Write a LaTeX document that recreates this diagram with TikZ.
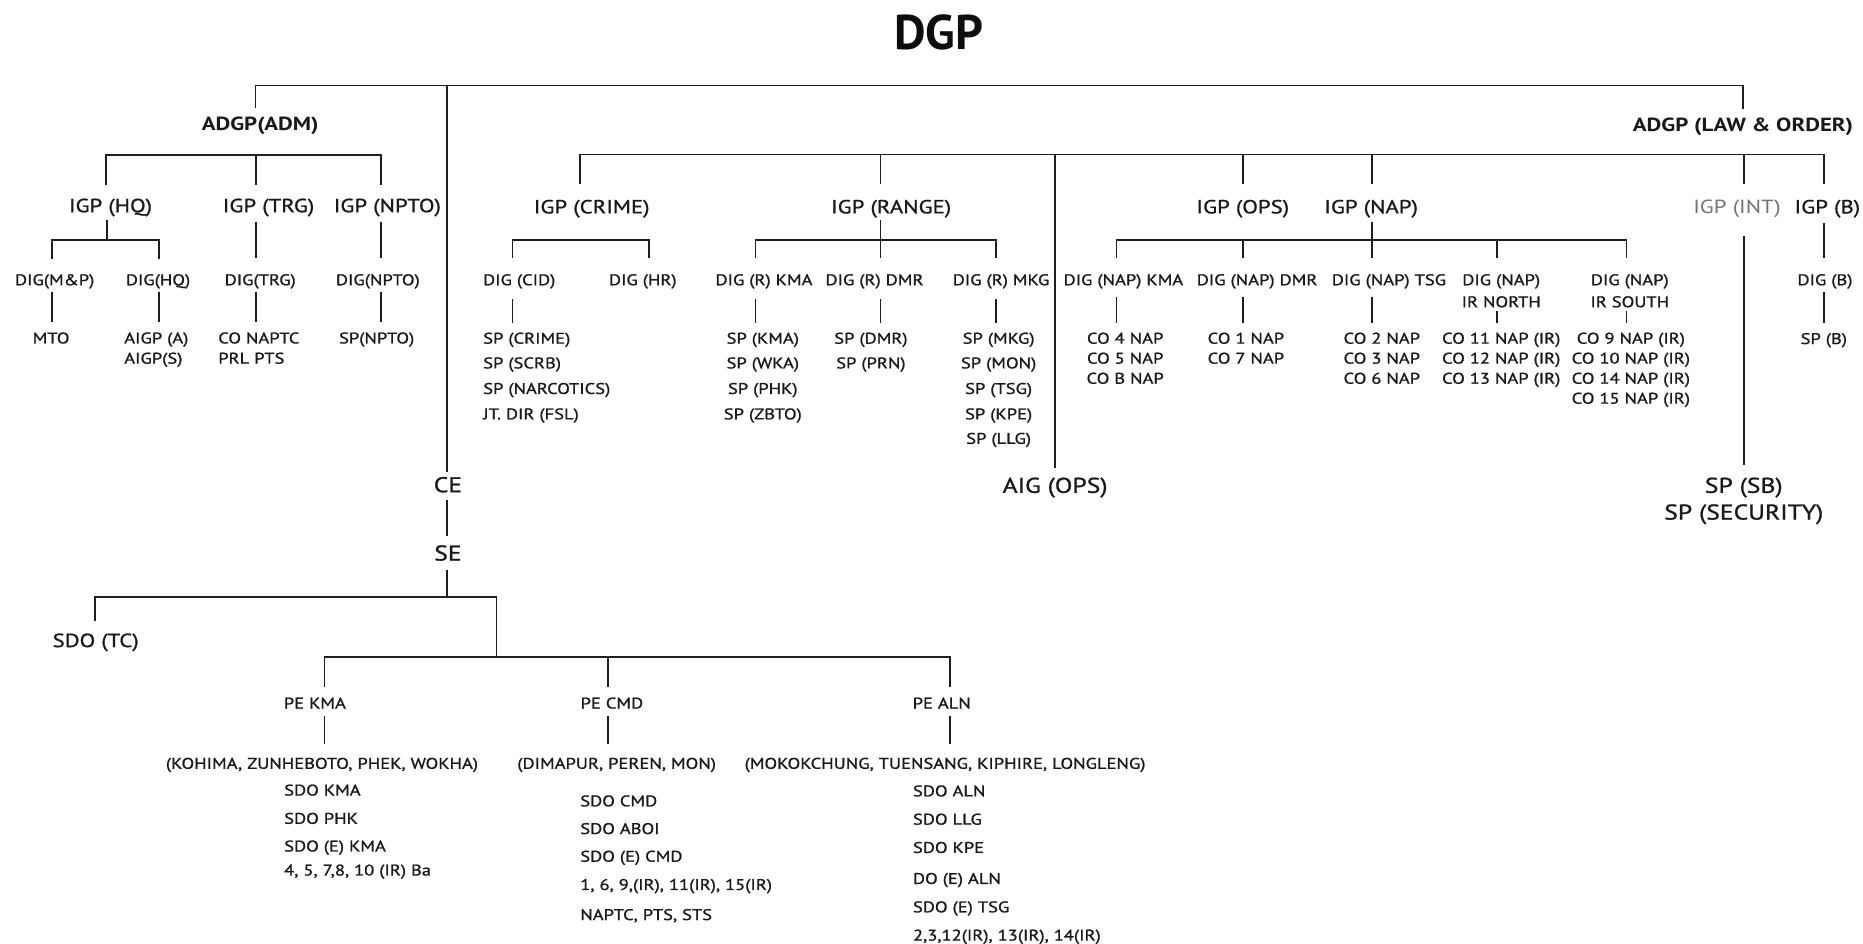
\documentclass[tikz,border=0pt]{standalone}
\usepackage{fontspec}
\setmainfont{PT Sans}
\newfontfamily\lab[FakeStretch=1.2]{PT Sans}
\newfontfamily\labm[FakeStretch=1.2,FakeBold=1.0]{PT Sans}
\begin{document}
\begin{tikzpicture}[x=1pt,y=-1pt,
  conn/.style={draw=black!88,line width=1.4pt,line join=miter},
  ttl/.style={font=\fontsize{41}{41}\selectfont\bfseries,anchor=base,yshift=-14.3pt,inner sep=0,text=black!95},
  adgp/.style={font=\lab\bfseries\fontsize{16}{16}\selectfont,anchor=base,yshift=-5.6pt,inner sep=0,text=black!90},
  igp/.style={font=\labm\fontsize{16}{16}\selectfont,anchor=base,yshift=-5.6pt,inner sep=0,text=black!90},
  sm/.style={font=\labm\fontsize{13}{13}\selectfont,anchor=base,yshift=-4.55pt,inner sep=0,text=black!90},
  smw/.style={sm,anchor=base west},
  big/.style={font=\labm\fontsize{18}{18}\selectfont,anchor=base,yshift=-6.3pt,inner sep=0,text=black!90}]
\useasboundingbox (0,0) rectangle (1568,794);
\fill[white] (0,0) rectangle (1568,794);

% ---------- title and top level
\node[ttl] (dgp) at (790,27) {DGP};
\draw[conn] (215,91) -- (215,72) -- (1467,72) -- (1467,92);
\draw[conn] (376,72) -- (376,397);
\node[adgp] (adm) at (219,104) {ADGP(ADM)};
\node[adgp] (lo) at (1467,105) {ADGP (LAW \& ORDER)};

% ---------- ADM branch
\draw[conn] (89,156) -- (89,130.5) -- (320.5,130.5) -- (320.5,156);
\draw[conn] (215.5,130.5) -- (215.5,156);
\node[igp] (igphq) at (93,173) {IGP (HQ)};
\node[igp] (igptrg) at (226,173) {IGP (TRG)};
\node[igp] (igpnpto) at (326,173) {IGP (NPTO)};
\draw[conn] (89.8,185) -- (89.8,202);
\draw[conn] (43.5,218) -- (43.5,202) -- (134,202) -- (134,218);
\draw[conn] (215.5,186.5) -- (215.5,217);
\draw[conn] (320.5,186.5) -- (320.5,217);
\node[sm] (digmp) at (46,235.5) {DIG(M\&P)};
\node[sm] (dighq) at (133,235.5) {DIG(HQ)};
\node[sm] (digtrg) at (219,235.5) {DIG(TRG)};
\node[sm] (dignpto) at (318,235.5) {DIG(NPTO)};
\draw[conn,line width=1.9pt] (43.5,246) -- (43.5,271);
\draw[conn] (134,246) -- (134,271);
\draw[conn] (215.5,246) -- (215.5,271);
\draw[conn] (320.5,246) -- (320.5,271);
\node[sm] (mto) at (43,284.5) {MTO};
\node[smw] (aigpa) at (104.4,284.5) {AIGP (A)};
\node[smw] (aigps) at (104.4,301.5) {AIGP(S)};
\node[smw] (conaptc) at (183.5,284.5) {CO NAPTC};
\node[smw] (prlpts) at (183.5,301.5) {PRL PTS};
\node[sm] (spnpto) at (317,284.5) {SP(NPTO)};

% ---------- CE / SE branch
\node[big] (ce) at (377,408) {CE};
\draw[conn] (376,421) -- (376,451);
\node[big] (se) at (377,465.5) {SE};
\draw[conn] (376,480) -- (376,502.2);
\draw[conn] (80,523) -- (80,502.2) -- (417.8,502.2) -- (417.8,553.2);
\node[igp] (sdotc) at (80.5,539) {SDO (TC)};
\draw[conn] (273,578) -- (273,553.2) -- (799.4,553.2) -- (799.4,578);
\draw[conn] (511.8,553.2) -- (511.8,578);
\node[sm] (pekma) at (265,591.8) {PE KMA};
\node[sm] (pecmd) at (515,591.8) {PE CMD};
\node[sm] (pealn) at (792.6,591.8) {PE ALN};
\draw[conn] (273,603) -- (273,626.5);
\draw[conn] (511.8,603) -- (511.8,626.5);
\draw[conn] (799.4,603) -- (799.4,626.5);
\node[sm] (dkma) at (271,642.5) {(KOHIMA, ZUNHEBOTO, PHEK, WOKHA)};
\node[sm] (dcmd) at (519,642.5) {(DIMAPUR, PEREN, MON)};
\node[sm] (daln) at (795.4,642.5) {(MOKOKCHUNG, TUENSANG, KIPHIRE, LONGLENG)};
\foreach \yy/\lbl [count=\i] in {665/SDO KMA,688.8/SDO PHK,712.1/SDO (E) KMA,732.3/{4, 5, 7,8, 10 (IR) Ba}}
  \node[smw] (kmal\i) at (239,\yy) {\lbl};
\foreach \yy/\lbl [count=\i] in {674.1/SDO CMD,697.4/SDO ABOI,720.7/SDO (E) CMD,744.5/{1, 6, 9,(IR), 11(IR), 15(IR)},769.8/{NAPTC, PTS, STS}}
  \node[smw] (cmdl\i) at (488.2,\yy) {\lbl};
\foreach \yy/\lbl [count=\i] in {665.7/SDO ALN,689.5/SDO LLG,713.3/SDO KPE,739.4/DO (E) ALN,763.3/SDO (E) TSG,787.1/{2,3,12(IR), 13(IR), 14(IR)}}
  \node[smw] (alnl\i) at (768.2,\yy) {\lbl};

% ---------- LAW & ORDER branch
\draw[conn] (488,154.5) -- (488,130) -- (1535.3,130) -- (1535.3,155);
\foreach \xx in {741,1046,1155,1467.6}
  \draw[conn] (\xx,130) -- (\xx,155);
\draw[conn] (888,130) -- (888,394);
\node[igp] (igpcrime) at (498,174) {IGP (CRIME)};
\node[igp] (igprange) at (750,174) {IGP (RANGE)};
\node[igp] (igpops) at (1046,174) {IGP (OPS)};
\node[igp] (igpnap) at (1154,174) {IGP (NAP)};
\node[igp,font=\lab\fontsize{16}{16}\selectfont,text=black!55] (igpint) at (1462,174) {IGP (INT)};
\node[igp] (igpb) at (1538,174) {IGP (B)};

% crime
\draw[conn] (431.4,217) -- (431.4,202) -- (546,202) -- (546,217);
\node[sm] (digcid) at (437,235.5) {DIG (CID)};
\node[sm] (dighr) at (541,235.5) {DIG (HR)};
\draw[conn] (431.4,252) -- (431.4,271.6);
\foreach \yy/\lbl [count=\i] in {284.7/SP (CRIME),305.5/SP (SCRB),327/SP (NARCOTICS),348.4/JT. DIR (FSL)}
  \node[smw] (crimel\i) at (406.5,\yy) {\lbl};

% range
\draw[conn] (741,185) -- (741,217);
\draw[conn] (636,217) -- (636,202) -- (838,202) -- (838,217);
\node[sm] (digrkma) at (643,235.5) {DIG (R) KMA};
\node[sm] (digrdmr) at (736,235.5) {DIG (R) DMR};
\node[sm] (digrmkg) at (842.5,235.5) {DIG (R) MKG};
\foreach \xx in {636,741,838}
  \draw[conn] (\xx,252) -- (\xx,271.6);
\foreach \yy/\lbl [count=\i] in {284.7/SP (KMA),305.5/SP (WKA),327/SP (PHK),348.4/SP (ZBTO)}
  \node[sm] (rkmal\i) at (642,\yy) {\lbl};
\foreach \yy/\lbl [count=\i] in {284.7/SP (DMR),305.5/SP (PRN)}
  \node[sm] (rdmrl\i) at (733,\yy) {\lbl};
\foreach \yy/\lbl [count=\i] in {284.7/SP (MKG),305.5/SP (MON),327/SP (TSG),348.4/SP (KPE),369/SP (LLG)}
  \node[sm] (rmkgl\i) at (840.5,\yy) {\lbl};

\node[big] (aigops) at (888,408.5) {AIG (OPS)};

% nap
\draw[conn] (1155,186.6) -- (1155,217);
\draw[conn] (939.6,217) -- (939.6,202) -- (1369,202) -- (1369,217);
\foreach \xx in {1046,1260}
  \draw[conn] (\xx,202) -- (\xx,217);
\node[sm] (dignkma) at (945.5,235.5) {DIG (NAP) KMA};
\node[sm] (digndmr) at (1058,235.5) {DIG (NAP) DMR};
\node[sm] (digntsg) at (1169,235.5) {DIG (NAP) TSG};
\node[sm] (dignn) at (1263.5,235.5) {DIG (NAP)};
\node[sm] (dignn2) at (1263.5,254) {IR NORTH};
\node[sm] (digns) at (1371.7,235.5) {DIG (NAP)};
\node[sm] (digns2) at (1371.7,254) {IR SOUTH};
\foreach \xx in {939.6,1046,1155}
  \draw[conn] (\xx,249.7) -- (\xx,272);
\foreach \xx in {1260,1369}
  \draw[conn] (\xx,262) -- (\xx,272);
\foreach \yy/\lbl [count=\i] in {284.7/CO 4 NAP,301.5/CO 5 NAP,318.4/CO B NAP}
  \node[sm] (nkmal\i) at (947,\yy) {\lbl};
\foreach \yy/\lbl [count=\i] in {284.7/CO 1 NAP,301.5/CO 7 NAP}
  \node[sm] (ndmrl\i) at (1048.6,\yy) {\lbl};
\foreach \yy/\lbl [count=\i] in {284.7/CO 2 NAP,301.5/CO 3 NAP,318.4/CO 6 NAP}
  \node[sm] (ntsgl\i) at (1163,\yy) {\lbl};
\foreach \yy/\lbl [count=\i] in {284.7/CO 11 NAP (IR),301.5/CO 12 NAP (IR),318.4/CO 13 NAP (IR)}
  \node[sm] (nnorl\i) at (1263.5,\yy) {\lbl};
\foreach \yy/\lbl [count=\i] in {284.7/CO 9 NAP (IR),301.5/CO 10 NAP (IR),318.4/CO 14 NAP (IR),335.2/CO 15 NAP (IR)}
  \node[sm] (nsoul\i) at (1372.6,\yy) {\lbl};

% int
\draw[conn] (1467.6,199) -- (1467.6,391);
\node[big] (spsb) at (1467.6,408.5) {SP (SB)};
\node[big] (spsec) at (1467.6,431) {SP (SECURITY)};

% b
\draw[conn] (1535.3,188) -- (1535.3,217);
\node[sm] (digb) at (1536,235.5) {DIG (B)};
\draw[conn] (1535.3,245.5) -- (1535.3,272);
\node[sm] (spb) at (1535,285) {SP (B)};
\end{tikzpicture}
\end{document}
